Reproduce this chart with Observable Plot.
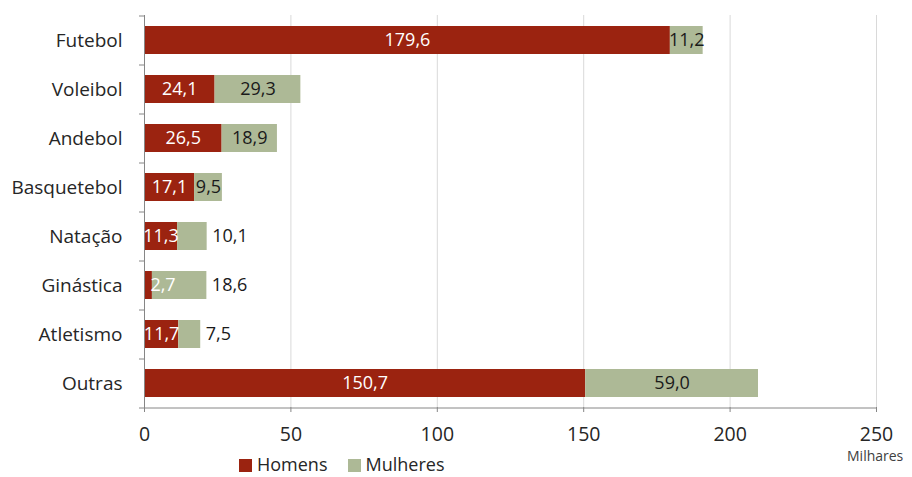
<!DOCTYPE html>
<html>
<head>
<meta charset="utf-8">
<script src="https://cdn.jsdelivr.net/npm/d3@7"></script>
<script src="https://cdn.jsdelivr.net/npm/@observablehq/plot@0.6"></script>
<style>
  body { margin: 0; background: #fff; font-family: "Open Sans", sans-serif; }
  #wrap { position: relative; width: 912px; height: 477px; overflow: hidden; }
  #legend { position: absolute; left: 239px; top: 454px; display: flex; gap: 20px; font-size: 18px; color: #262626; line-height: 20px; }
  #legend span.sw { display: inline-block; width: 13px; height: 13px; margin-right: 5px; vertical-align: -1px; }
  #unit { position: absolute; left: 847px; top: 449px; font-size: 14px; line-height: 14px; color: #404040; }
</style>
</head>
<body>
<div id="wrap">
  <div id="chart"></div>
  <div id="unit">Milhares</div>
  <div id="legend"></div>
</div>
<script>
// Praticantes federados por modalidade e sexo (milhares)
const categorias = ["Futebol", "Voleibol", "Andebol", "Basquetebol", "Natação", "Ginástica", "Atletismo", "Outras"];
const homens   = [179.6, 24.1, 26.5, 17.1, 11.3, 2.7, 11.7, 150.7];
const mulheres = [11.2, 29.3, 18.9, 9.5, 10.1, 18.6, 7.5, 59.0];
const series = ["Homens", "Mulheres"];
const cores = ["#9b2310", "#adb996"];
const xTicks = [0, 50, 100, 150, 200, 250];
// modalidades cujo rótulo feminino fica à direita da barra
const mulheresFora = ["Natação", "Ginástica", "Atletismo"];

const fmt = v => v.toFixed(1).replace(".", ",");

const rows = categorias.flatMap((c, i) => [
  {cat: c, sexo: "Homens", v: homens[i], x0: 0, x1: homens[i]},
  {cat: c, sexo: "Mulheres", v: mulheres[i], x0: homens[i], x1: homens[i] + mulheres[i]}
]);

const hIn = rows.filter(d => d.sexo === "Homens" && d.v >= 5);
const hOut = rows.filter(d => d.sexo === "Homens" && d.v < 5);
const mIn = rows.filter(d => d.sexo === "Mulheres" && !mulheresFora.includes(d.cat));
const mOut = rows.filter(d => d.sexo === "Mulheres" && mulheresFora.includes(d.cat));

const chart = Plot.plot({
  width: 912,
  height: 456,
  marginTop: 15,
  marginBottom: 49,
  marginLeft: 144,
  marginRight: 36,
  style: {fontFamily: "'Open Sans', sans-serif", color: "#262626", background: "#fff"},
  x: {domain: [0, 250], label: null},
  y: {domain: categorias, paddingInner: 0.43, paddingOuter: 0.215, label: null},
  color: {domain: series, range: cores},
  marks: [
    Plot.gridX(xTicks.slice(1), {stroke: "#d9d9d9", strokeOpacity: 1, strokeWidth: 1}),
    Plot.barX(rows, {x1: "x0", x2: "x1", y: "cat", fill: "sexo"}),
    // eixo vertical e marcas entre categorias
    Plot.ruleX([0], {stroke: "#868686", strokeWidth: 1}),
    Plot.ruleY(categorias, {y: d => d, dy: 24.5, x1: 0, x2: 0, insetLeft: -5, stroke: "#868686"}),
    Plot.ruleY(categorias.slice(0, 1), {y: d => d, dy: -24.5, x1: 0, x2: 0, insetLeft: -5, stroke: "#868686"}),
    // eixo horizontal
    Plot.ruleY(categorias.slice(-1), {y: d => d, dy: 24.5, x1: 0, x2: 250, stroke: "#868686"}),
    Plot.axisX({ticks: xTicks, tickSize: 5, tickPadding: 15, fontSize: 19.5, stroke: "#868686", color: "#262626", label: null}),
    Plot.axisY({tickSize: 0, tickPadding: 22, fontSize: 19, label: null}),
    // rótulos de valor
    Plot.text(hIn, {x: d => (d.x0 + d.x1) / 2, y: "cat", text: d => fmt(d.v), fill: "#fff", fontSize: 18}),
    Plot.text(hOut, {x: "x1", y: "cat", text: d => fmt(d.v), fill: "#fff", fontSize: 18, textAnchor: "start", dx: -2}),
    Plot.text(mIn, {x: d => (d.x0 + d.x1) / 2, y: "cat", text: d => fmt(d.v), fill: "#1a1a1a", fontSize: 18}),
    Plot.text(mOut, {x: "x1", y: "cat", text: d => fmt(d.v), fill: "#1a1a1a", fontSize: 18, textAnchor: "start", dx: 5})
  ]
});
document.getElementById("chart").appendChild(chart);

const legend = document.getElementById("legend");
series.forEach((s, i) => {
  const item = document.createElement("div");
  item.innerHTML = `<span class="sw" style="background:${cores[i]}"></span>${s}`;
  legend.appendChild(item);
});
</script>
</body>
</html>
